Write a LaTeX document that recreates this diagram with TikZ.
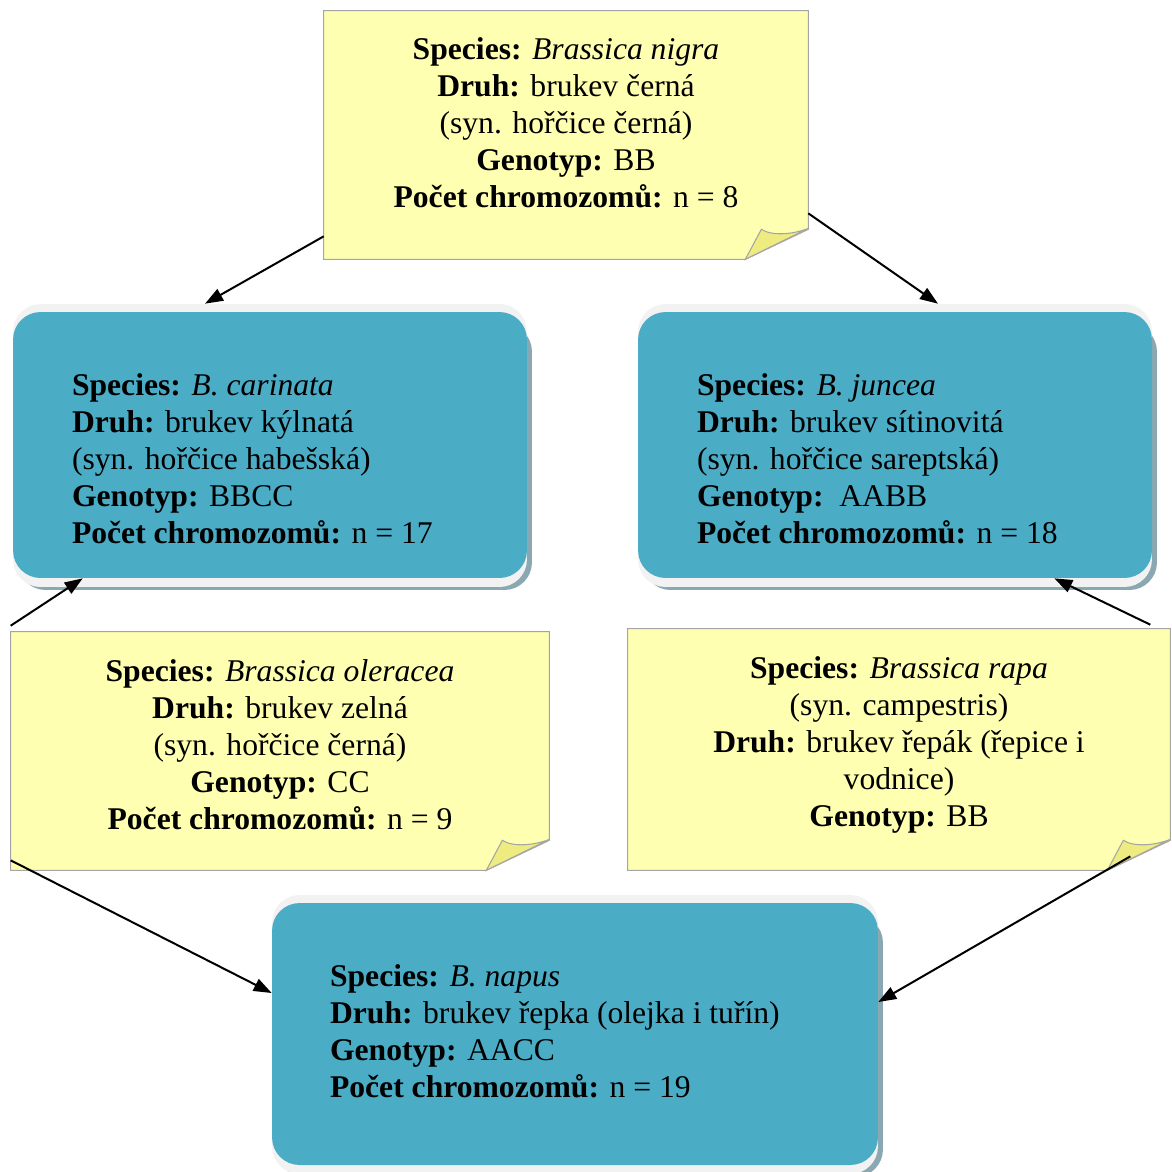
\documentclass[tikz,border=0pt]{standalone}
\usepackage{fontspec}
\setmainfont{Liberation Serif}
\usetikzlibrary{positioning,arrows.meta}

\definecolor{notefill}{RGB}{255,255,178}
\definecolor{foldfill}{RGB}{238,236,128}
\definecolor{noteline}{RGB}{165,165,165}
\definecolor{tealfill}{RGB}{75,172,198}
\definecolor{bevel}{RGB}{242,242,242}
\definecolor{shade}{RGB}{138,168,178}

\begin{document}
\begin{tikzpicture}[x=0.02cm,y=-0.02cm,
  every node/.style={font=\fontsize{18pt}{21pt}\selectfont},
  notebox/.style={inner sep=0pt},
  notetext/.style={align=center, inner sep=0pt},
  boxtext/.style={align=left, inner sep=0pt},
  tealbox/.style={rounded corners=0.55cm, fill=tealfill, inner sep=0pt,
    minimum height=5.32cm,
    preaction={fill=shade, transform canvas={xshift=0.1cm,yshift=-0.24cm}},
    preaction={fill=bevel, transform canvas={yshift=0.16cm}},
    preaction={fill=bevel, transform canvas={yshift=-0.18cm}}},
  link/.style={-{Triangle[length=0.36cm,width=0.26cm]}, line width=0.04cm}]
  \useasboundingbox (0,0) rectangle (1172,1171);

  % blue boxes
  \node[tealbox, minimum width=10.28cm] (carinata) at (270,445) {};
  \node[tealbox, minimum width=10.28cm] (juncea) at (895,445) {};
  \node[tealbox, minimum width=12.12cm, minimum height=5.24cm] (napus) at (575,1034) {};

  % yellow notes
  \node[notebox, minimum width=9.68cm, minimum height=4.96cm] (nigra) at (566,135) {};
  \node[notebox, minimum width=10.76cm, minimum height=4.76cm] (oleracea) at (280,751) {};
  \node[notebox, minimum width=10.84cm, minimum height=4.82cm] (rapa) at (899,749.5) {};

  \foreach \n in {nigra,oleracea,rapa}{
    \draw[draw=noteline, fill=notefill, line width=0.6pt] (\n.north west) -- (\n.north east)
      -- ([yshift=0.6cm]\n.south east) -- ([xshift=-1.26cm]\n.south east) -- (\n.south west) -- cycle;
    \draw[draw=noteline, fill=foldfill, line width=0.6pt] ([xshift=-1.26cm]\n.south east)
      -- ([xshift=-0.94cm,yshift=0.6cm]\n.south east)
      .. controls ([xshift=-0.72cm,yshift=0.46cm]\n.south east) and ([xshift=-0.3cm,yshift=0.5cm]\n.south east)
      .. ([yshift=0.62cm]\n.south east) -- cycle;
  }

  \node[notetext, below=0.54cm of nigra.north] (nigratext)
    {\textbf{Species:} \textit{Brassica nigra}\\ \textbf{Druh:} brukev černá\\ (syn. hořčice černá)\\
     \textbf{Genotyp:} BB\\ \textbf{Počet chromozomů:} n = 8};
  \node[notetext, below=0.56cm of oleracea.north] (oleraceatext)
    {\textbf{Species:} \textit{Brassica oleracea}\\ \textbf{Druh:} brukev zelná\\ (syn. hořčice černá)\\
     \textbf{Genotyp:} CC\\ \textbf{Počet chromozomů:} n = 9};
  \node[notetext, below=0.56cm of rapa.north] (rapatext)
    {\textbf{Species:} \textit{Brassica rapa}\\ (syn. campestris)\\ \textbf{Druh:} brukev řepák (řepice i\\
     vodnice)\\ \textbf{Genotyp:} BB};

  \node[boxtext, below right=1.24cm and 1.18cm of carinata.north west] (carinatatext)
    {\textbf{Species:} \textit{B. carinata}\\ \textbf{Druh:} brukev kýlnatá\\ (syn. hořčice habešská)\\
     \textbf{Genotyp:} BBCC\\ \textbf{Počet chromozomů:} n = 17};
  \node[boxtext, below right=1.24cm and 1.18cm of juncea.north west] (junceatext)
    {\textbf{Species:} \textit{B. juncea}\\ \textbf{Druh:} brukev sítinovitá\\ (syn. hořčice sareptská)\\
     \textbf{Genotyp:}\ \ AABB\\ \textbf{Počet chromozomů:} n = 18};
  \node[boxtext, below right=1.24cm and 1.16cm of napus.north west] (napustext)
    {\textbf{Species:} \textit{B. napus}\\ \textbf{Druh:} brukev řepka (olejka i tuřín)\\
     \textbf{Genotyp:} AACC\\ \textbf{Počet chromozomů:} n = 19};

  % arrows
  \draw[link] ([yshift=0.46cm]nigra.south west) -- ([xshift=-1.3cm,yshift=0.16cm]carinata.north);
  \draw[link] ([yshift=0.92cm]nigra.south east) -- ([xshift=0.86cm,yshift=0.16cm]juncea.north);
  \draw[link] ([yshift=0.12cm]oleracea.north west) -- ([xshift=1.4cm]carinata.south west);
  \draw[link] ([xshift=-0.4cm,yshift=0.08cm]rapa.north east) -- ([xshift=-1.96cm]juncea.south east);
  \draw[link] ([yshift=0.2cm]oleracea.south west) -- ([yshift=0.82cm]napus.west);
  \draw[link] ([xshift=-0.8cm,yshift=0.28cm]rapa.south east) -- ([yshift=0.64cm]napus.east);
\end{tikzpicture}
\end{document}
